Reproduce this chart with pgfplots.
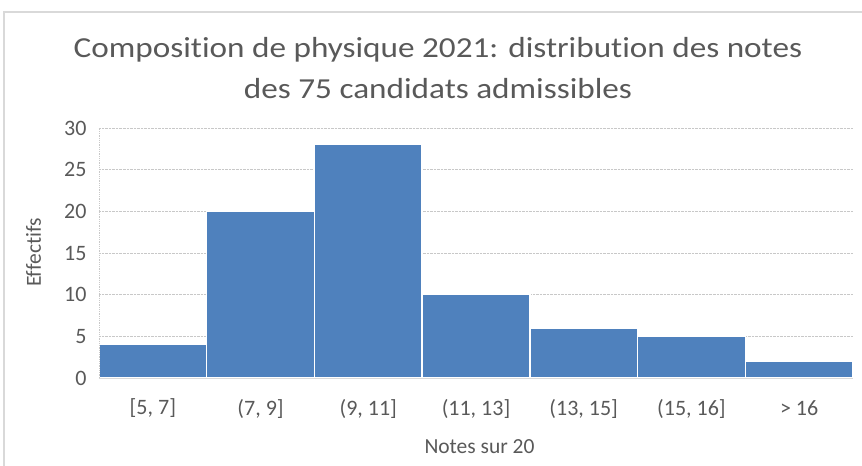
\documentclass[border=0pt]{standalone}
\usepackage{fontspec}
\setmainfont[Ligatures={NoCommon}]{Carlito}
\usepackage{pgfplots}
\pgfplotsset{compat=1.18}
\definecolor{barblue}{HTML}{4F81BD}
\definecolor{txtgray}{HTML}{595959}
\definecolor{gridgray}{HTML}{C8C8C8}
\definecolor{framegray}{HTML}{D9D9D9}

\begin{document}
\begin{tikzpicture}
% picture bounds: 862 x 466, origin at the lower left corner of the plot area
\useasboundingbox (-99bp,-88bp) rectangle (763bp,378bp);
\draw[framegray, line width=1.2bp] (-95bp,-90bp) -- (-95bp,366bp) -- (765bp,366bp);

\begin{axis}[
  at={(0,0)}, anchor=south west,
  scale only axis, width=754bp, height=250bp,
  xmin=-0.5, xmax=6.5, ymin=0, ymax=30,
  xtick={0,...,6},
  xticklabels={{[5, 7]},{(7, 9]},{(9, 11]},{(11, 13]},{(13, 15]},{(15, 16]},{> 16}},
  ytick={0,5,...,30},
  major tick length=0pt,
  axis line style={draw=none},
  ymajorgrids,
  grid style={gridgray, densely dotted, line width=0.8bp},
  tick label style={font=\fontsize{22bp}{26bp}\selectfont, text=txtgray},
  xticklabel style={anchor=center, yshift=-30.5bp},
  yticklabel style={xshift=-9bp},
  /pgf/number format/assume math mode=true,
  clip=false,
]
\addplot[ybar, bar width=1, fill=barblue, draw=white, line width=1.5bp]
  coordinates {(0,4) (1,20) (2,28) (3,10) (4,6) (5,5) (6,2)};
\draw[gridgray, densely dotted, line width=0.8bp] (rel axis cs:0,0) -- (rel axis cs:0,1);
\draw[framegray, line width=1bp] (rel axis cs:0,0) -- (rel axis cs:1,0);
\end{axis}

\node[text=txtgray, font=\fontsize{29bp}{41bp}\selectfont, align=center, xscale=1.145]
  at (339bp,310bp) {Composition de physique 2021: distribution des notes\\des 75 candidats admissibles};
\node[text=txtgray, font=\fontsize{21.5bp}{25bp}\selectfont] at (380.5bp,-69bp) {Notes sur 20};
\node[text=txtgray, font=\fontsize{21.5bp}{25bp}\selectfont, rotate=90] at (-65.5bp,125.5bp) {Effectifs};
\end{tikzpicture}
\end{document}
